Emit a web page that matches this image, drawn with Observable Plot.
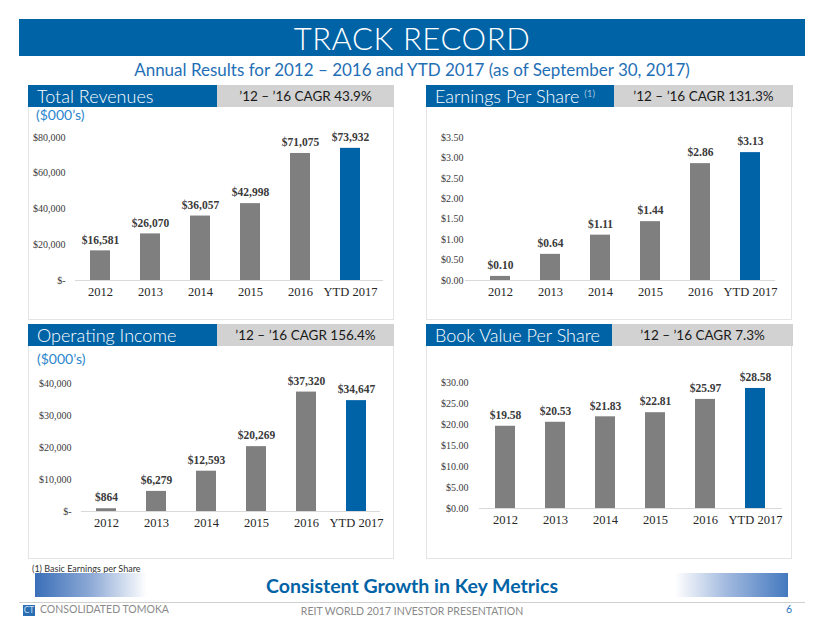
<!DOCTYPE html>
<html>
<head>
<meta charset="utf-8">
<script src="https://cdn.jsdelivr.net/npm/d3@7"></script>
<script src="https://cdn.jsdelivr.net/npm/@observablehq/plot@0.6"></script>
<style>
  html, body { margin: 0; padding: 0; background: #fff; }
  #page { position: relative; width: 824px; height: 637px; overflow: hidden; font-family: Lato, "Noto Sans", sans-serif; }
  .abs { position: absolute; }
  .titlebar { left: 19px; top: 19px; width: 786px; height: 37px; background: #0063a6; color: #fff;
    font-size: 31px; font-weight: 300; line-height: 38px; text-align: center; letter-spacing: 0.6px; }
  .subtitle { left: 0; top: 58px; width: 824px; text-align: center; color: #1f6fb6; font-size: 17px; font-weight: 400; line-height: 24px; }
  .panel { border: 1px solid #e4e4e4; border-top: none; box-sizing: border-box; }
  .hblue { background: #0063a6; color: #fff; font-size: 18px; font-weight: 300; line-height: 22px; padding-left: 9px; box-sizing: border-box; white-space: nowrap; }
  .hgray { background: #d2d2d2; color: #1a1a1a; font-size: 13.5px; line-height: 22px; text-align: center; white-space: nowrap; }
  .hblue .sup { font-size: 10px; position: relative; top: -6px; line-height: 0; }
  .unit { color: #2c86cc; font-size: 14px; font-weight: 400; }
  .foot { color: #333; font-size: 9px; }
  .growth { left: 0; top: 573px; width: 824px; text-align: center; color: #0063a6; font-weight: 700; font-size: 19.5px; line-height: 25px; }
  .footer { color: #8a8a8a; font-size: 10.5px; }
</style>
</head>
<body>
<div id="page">
  <div class="abs titlebar">TRACK RECORD</div>
  <div class="abs subtitle">Annual Results for 2012 – 2016 and YTD 2017 (as of September 30, 2017)</div>

  <div class="abs panel" style="left:28px;top:107px;width:366px;height:213px;"></div>
  <div class="abs panel" style="left:426px;top:107px;width:366px;height:213px;"></div>
  <div class="abs panel" style="left:28px;top:346px;width:366px;height:213px;"></div>
  <div class="abs panel" style="left:426px;top:346px;width:366px;height:213px;"></div>

  <div class="abs hblue" style="left:28px;top:85px;width:189px;height:22px;">Total Revenues</div>
  <div class="abs hgray" style="left:217px;top:85px;width:177px;height:22px;">’12 – ’16 CAGR 43.9%</div>
  <div class="abs hblue" style="left:426px;top:85px;width:188px;height:22px;">Earnings Per Share <span class="sup">(1)</span></div>
  <div class="abs hgray" style="left:614px;top:85px;width:179px;height:22px;">’12 – ’16 CAGR 131.3%</div>
  <div class="abs hblue" style="left:28px;top:324px;width:189px;height:22px;">Operating Income</div>
  <div class="abs hgray" style="left:217px;top:324px;width:177px;height:22px;">’12 – ’16 CAGR 156.4%</div>
  <div class="abs hblue" style="left:426px;top:324px;width:186px;height:22px;">Book Value Per Share</div>
  <div class="abs hgray" style="left:612px;top:324px;width:181px;height:22px;">’12 – ’16 CAGR 7.3%</div>

  <div class="abs unit" style="left:36px;top:106px;">($000’s)</div>
  <div class="abs unit" style="left:37px;top:350px;">($000’s)</div>

  <div id="c1" class="abs" style="left:28px;top:107px;"></div>
  <div id="c2" class="abs" style="left:426px;top:107px;"></div>
  <div id="c3" class="abs" style="left:28px;top:346px;"></div>
  <div id="c4" class="abs" style="left:426px;top:346px;"></div>

  <div class="abs foot" style="left:32px;top:563px;">(1) Basic Earnings per Share</div>
  <div class="abs" style="left:35px;top:573px;width:112px;height:24px;background:linear-gradient(to right,#3a6fb8,#8eaad6 50%,#ffffff);"></div>
  <div class="abs" style="left:675px;top:573px;width:113px;height:24px;background:linear-gradient(to right,#ffffff,#a3badf 45%,#4479bf);"></div>
  <div class="abs growth">Consistent Growth in Key Metrics</div>
  <div class="abs" style="left:19px;top:602px;width:786px;height:1px;background:#cfcfcf;"></div>
  <div class="abs" style="left:23px;top:605px;width:12px;height:11px;background:#2a6db3;color:#cfe0f3;font-size:8px;line-height:11px;text-align:center;font-family:'DejaVu Sans';">CT</div>
  <div class="abs footer" style="left:40px;top:603px;">CONSOLIDATED TOMOKA</div>
  <div class="abs footer" style="left:0;top:605px;width:824px;text-align:center;">REIT WORLD 2017 INVESTOR PRESENTATION</div>
  <div class="abs footer" style="left:786px;top:603px;color:#2c78c4;">6</div>
</div>
<script>
const categories = ["2012", "2013", "2014", "2015", "2016", "YTD 2017"];
const revenues = [16581, 26070, 36057, 42998, 71075, 73932];
const eps = [0.10, 0.64, 1.11, 1.44, 2.86, 3.13];
const operatingIncome = [864, 6279, 12593, 20269, 37320, 34647];
const bookValue = [19.58, 20.53, 21.83, 22.81, 25.97, 28.58];

const revTicks = [0, 20000, 40000, 60000, 80000];
const epsTicks = [0, 0.5, 1.0, 1.5, 2.0, 2.5, 3.0, 3.5];
const oiTicks = [0, 10000, 20000, 30000, 40000];
const bvTicks = [0, 5, 10, 15, 20, 25, 30];

const GRAY = "#7f7f7f";
const BLUE = "#0063a8";

const fmtThousands = v => v === 0 ? "$-" : "$" + d3.format(",")(v);
const fmtDollar = v => "$" + d3.format(".2f")(v);

function chart(sel, values, o) {
  const data = categories.map((c, i) => ({cat: c, value: values[i]}));
  const el = Plot.plot({
    width: 365, height: o.height,
    marginTop: o.mt, marginBottom: o.height - o.base, marginLeft: o.ml, marginRight: o.mr,
    style: {fontFamily: "'Liberation Serif', 'Times New Roman', serif", background: "transparent", overflow: "visible"},
    x: {type: "band", domain: categories, range: o.xr, paddingInner: 0.6, paddingOuter: 0.3, axis: null},
    y: {domain: o.domain, axis: null},
    color: {type: "identity"},
    marks: [
      Plot.ruleY([0], {stroke: "#d9d9d9", strokeWidth: 1.2}),
      Plot.barY(data, {x: "cat", y: "value", fill: d => d.cat === "YTD 2017" ? BLUE : GRAY}),
      Plot.text(data, {x: "cat", y: "value", text: d => o.label(d.value), dy: -11, fontSize: 11.5, fontWeight: "bold", fill: "#3a3a3a"}),
      Plot.axisX({tickSize: 0, tickPadding: o.xpad, fontSize: 12.5, fill: "#262626", label: null}),
      Plot.axisY({ticks: o.ticks, tickFormat: o.tickFormat, tickSize: 0, tickPadding: o.ypad, fontSize: 10, fill: "#3a3a3a", label: null})
    ]
  });
  document.querySelector(sel).appendChild(el);
}

chart("#c1", revenues, {height: 205, mt: 30, base: 173, ml: 47, mr: 10, xr: [47, 347], domain: [0, 80000],
  ticks: revTicks, tickFormat: fmtThousands, label: fmtThousands, ypad: 10, xpad: 7});
chart("#c2", eps, {height: 205, mt: 30, base: 173, ml: 39, mr: 16, xr: [48, 349], domain: [0, 3.5],
  ticks: epsTicks, tickFormat: fmtDollar, label: fmtDollar, ypad: 2, xpad: 7});
chart("#c3", operatingIncome, {height: 212, mt: 37, base: 165, ml: 53, mr: 13, xr: [53, 353], domain: [0, 40000],
  ticks: oiTicks, tickFormat: fmtThousands, label: fmtThousands, ypad: 10, xpad: 7});
chart("#c4", bookValue, {height: 212, mt: 36, base: 162, ml: 53, mr: 9, xr: [52, 356], domain: [0, 30],
  ticks: bvTicks, tickFormat: fmtDollar, label: fmtDollar, ypad: 11, xpad: 7});
</script>
</body>
</html>
